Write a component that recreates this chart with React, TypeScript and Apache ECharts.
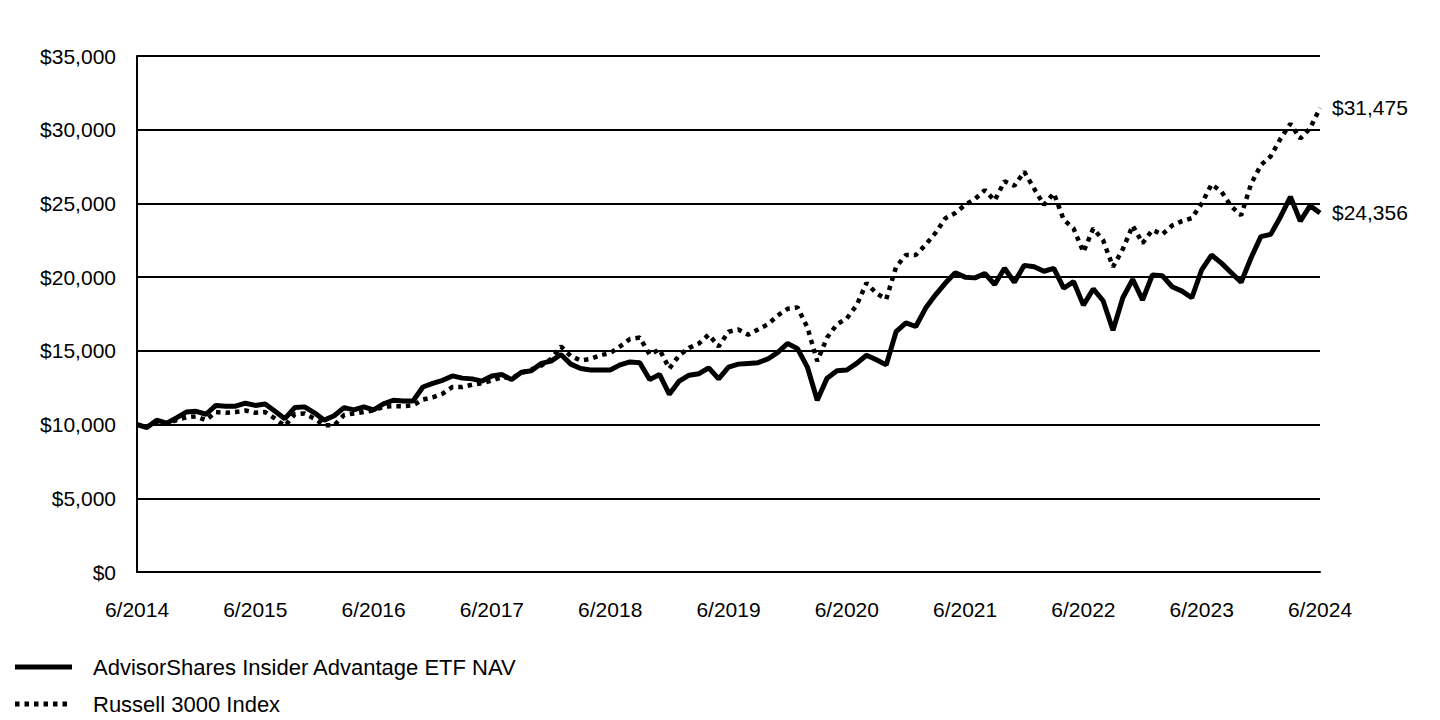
import React, { useEffect, useRef } from "react";
import * as echarts from "echarts";

const monthLabels: string[] = [];
for (let i = 0; i <= 120; i++) {
  const m = ((5 + i) % 12) + 1;
  const y = 2014 + Math.floor((5 + i) / 12);
  monthLabels.push(`${m}/${y}`);
}

const etfName = "AdvisorShares Insider Advantage ETF NAV";
const indexName = "Russell 3000 Index";

const etfValues = [
  10000, 9800, 10300, 10100, 10450, 10850, 10900, 10700, 11300, 11250,
  11250, 11450, 11300, 11400, 10900, 10400, 11150, 11200, 10800, 10300,
  10600, 11150, 11000, 11200, 11000, 11400, 11650, 11600, 11600, 12550,
  12800, 13000, 13300, 13150, 13100, 12950, 13300, 13400, 13050, 13550,
  13650, 14150, 14300, 14750, 14100, 13800, 13700, 13700, 13700, 14050,
  14250, 14200, 13050, 13400, 12050, 12950, 13350, 13450, 13850, 13100,
  13900, 14100, 14150, 14200, 14450, 14900, 15500, 15150, 13900, 11650,
  13150, 13650, 13700, 14150, 14700, 14400, 14050, 16300, 16900, 16650,
  17900, 18800, 19600, 20300, 20000, 19950, 20250, 19500, 20600, 19650,
  20800, 20700, 20400, 20600, 19250, 19700, 18100, 19200, 18400, 16400,
  18600, 19850, 18450, 20150, 20100, 19350, 19050, 18600, 20500, 21500,
  20950, 20300, 19650, 21300, 22750, 22900, 24100, 25450, 23800, 24850,
  24356,
];

const indexValues = [
  10000, 9850, 10200, 10050, 10300, 10500, 10550, 10300, 10850, 10800,
  10850, 10950, 10800, 10850, 10400, 9900, 10700, 10750, 10400, 9950,
  9950, 10650, 10750, 10850, 10950, 11200, 11250, 11250, 11300, 11700,
  11850, 12100, 12550, 12550, 12700, 12800, 13000, 13200, 13150, 13500,
  13750, 14000, 14450, 15300, 14650, 14350, 14450, 14700, 14850, 15300,
  15800, 15900, 14750, 15100, 13800, 14700, 15200, 15500, 16100, 15300,
  16300, 16450, 16100, 16450, 16800, 17400, 17850, 17950, 16600, 14300,
  15900, 16800, 17200, 18100, 19600, 18900, 18500, 20700, 21500, 21500,
  22200, 23000, 24000, 24350, 24900, 25300, 25900, 25200, 26500, 26200,
  27150, 26000, 24900, 25700, 23900, 23300, 21700, 23300, 22500, 20700,
  21900, 23500, 22300, 23200, 22900, 23500, 23800, 24000, 25000, 26300,
  25800, 24800, 24200, 26300, 27600, 28200, 29400, 30400, 29400, 30100,
  31475,
];

const fmt = (v: number) => "$" + Math.round(v).toLocaleString("en-US");
const FONT = "'Liberation Sans', Arial, sans-serif";
const FS = 21;
const LEGEND_FS = 22;
const DASH = [4.5, 5];

export default function App() {
  const ref = useRef<HTMLDivElement>(null);
  useEffect(() => {
    if (!ref.current) return;
    const chart = echarts.init(ref.current, undefined, { renderer: "svg" });
    chart.setOption({
      animation: false,
      backgroundColor: "#fff",
      textStyle: { fontFamily: FONT, color: "#000" },
      grid: { left: 137, top: 56, width: 1183, height: 516, containLabel: false },
      xAxis: {
        type: "category",
        data: monthLabels,
        boundaryGap: false,
        axisLine: { show: true, lineStyle: { color: "#000", width: 2 } },
        axisTick: { show: false },
        axisLabel: {
          interval: 11,
          color: "#000",
          fontSize: FS,
          fontFamily: FONT,
          margin: 27,
          showMaxLabel: true,
        },
        splitLine: { show: false },
      },
      yAxis: {
        type: "value",
        min: 0,
        max: 35000,
        interval: 5000,
        axisLine: { show: true, lineStyle: { color: "#000", width: 2 } },
        axisTick: { show: false },
        axisLabel: {
          color: "#000",
          fontSize: FS,
          fontFamily: FONT,
          margin: 21,
          formatter: (v: number) => fmt(v),
        },
        splitLine: { show: true, lineStyle: { color: "#000", width: 2 } },
      },
      legend: { show: false },
      graphic: [
        {
          type: "line",
          shape: { x1: 15, y1: 667, x2: 72, y2: 667 },
          style: { stroke: "#000", lineWidth: 5 },
        },
        {
          type: "text",
          x: 93,
          y: 667,
          style: {
            text: etfName,
            fontSize: LEGEND_FS,
            fontFamily: FONT,
            fill: "#000",
            verticalAlign: "middle",
          },
        },
        {
          type: "line",
          shape: { x1: 15, y1: 704, x2: 72, y2: 704 },
          style: { stroke: "#000", lineWidth: 5, lineDash: DASH },
        },
        {
          type: "text",
          x: 93,
          y: 704,
          style: {
            text: indexName,
            fontSize: LEGEND_FS,
            fontFamily: FONT,
            fill: "#000",
            verticalAlign: "middle",
          },
        },
      ],
      series: [
        {
          name: indexName,
          type: "line",
          data: indexValues,
          symbol: "none",
          z: 2,
          lineStyle: { color: "#000", width: 4.5, type: DASH },
          itemStyle: { color: "#000" },
          endLabel: {
            show: true,
            formatter: () => fmt(indexValues[indexValues.length - 1]),
            fontSize: FS,
            color: "#000",
            fontFamily: FONT,
            distance: 12,
          },
        },
        {
          name: etfName,
          type: "line",
          data: etfValues,
          symbol: "none",
          z: 3,
          lineStyle: { color: "#000", width: 5 },
          itemStyle: { color: "#000" },
          endLabel: {
            show: true,
            formatter: () => fmt(etfValues[etfValues.length - 1]),
            fontSize: FS,
            color: "#000",
            fontFamily: FONT,
            distance: 12,
          },
        },
      ],
    });
    return () => chart.dispose();
  }, []);
  return (
    <div
      ref={ref}
      style={{ position: "fixed", left: 0, top: 0, width: 1440, height: 720 }}
    />
  );
}
